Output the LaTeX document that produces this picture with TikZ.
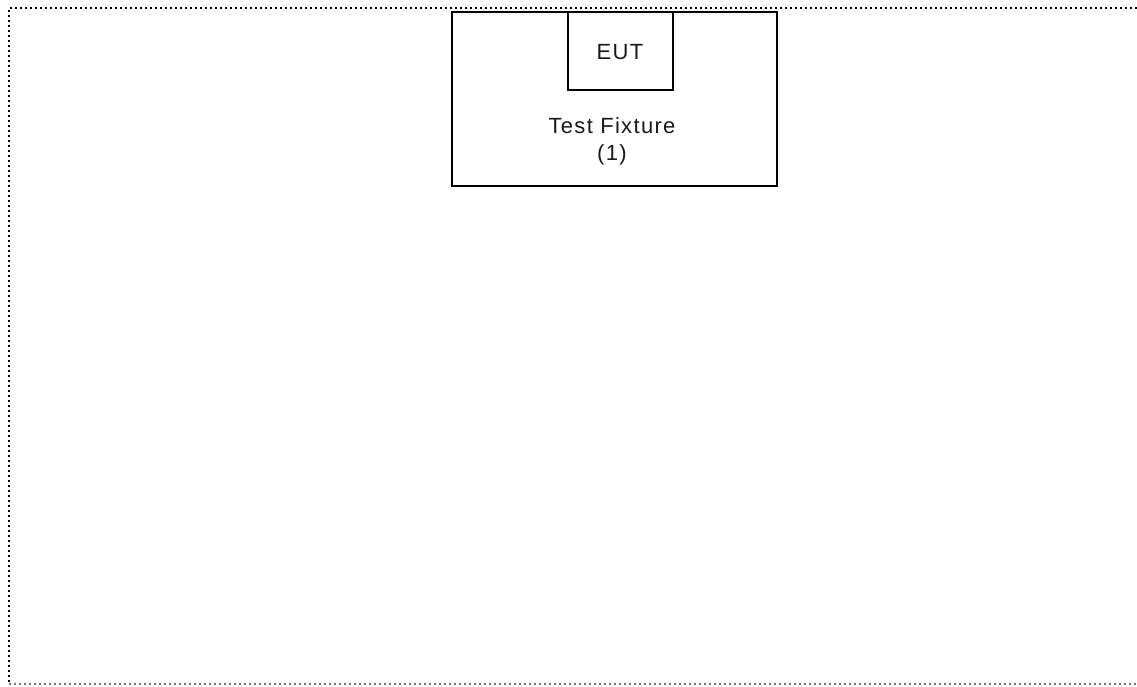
\documentclass[tikz,border=0pt]{standalone}
\usepackage{fontspec}
\setmainfont{Liberation Sans}[LetterSpace=6]
\begin{document}
\begin{tikzpicture}[x=1pt,y=-1pt,
  box/.style={draw, line width=2.8pt, rectangle, inner sep=0pt},
  lbl/.style={font=\fontsize{22}{27}\selectfont, align=center, inner sep=0pt, text=black!90},
  frame/.style={line width=2pt, dash pattern=on 2pt off 3pt}]
  \useasboundingbox (0,0) rectangle (1137,686);
  % dotted enclosure
  \draw[frame] (1137,8) -- (9,8) -- (9,684);
  \draw[frame, black!55] (9,684) -- (1137,684);
  % fixture and unit under test
  \node[box, minimum width=325pt, minimum height=174pt] (fixture) at (614.5,99) {};
  \node[box, minimum width=105pt, minimum height=78pt] (eut) at (620.5,51) {};
  \node[lbl, anchor=base] (eutlabel) at (620,59.5) {EUT};
  % multi-line label: base anchor sits on the last line
  \node[lbl, anchor=base] (fixlabel) at (612,160.5) {Test Fixture\\(1)};
\end{tikzpicture}
\end{document}
